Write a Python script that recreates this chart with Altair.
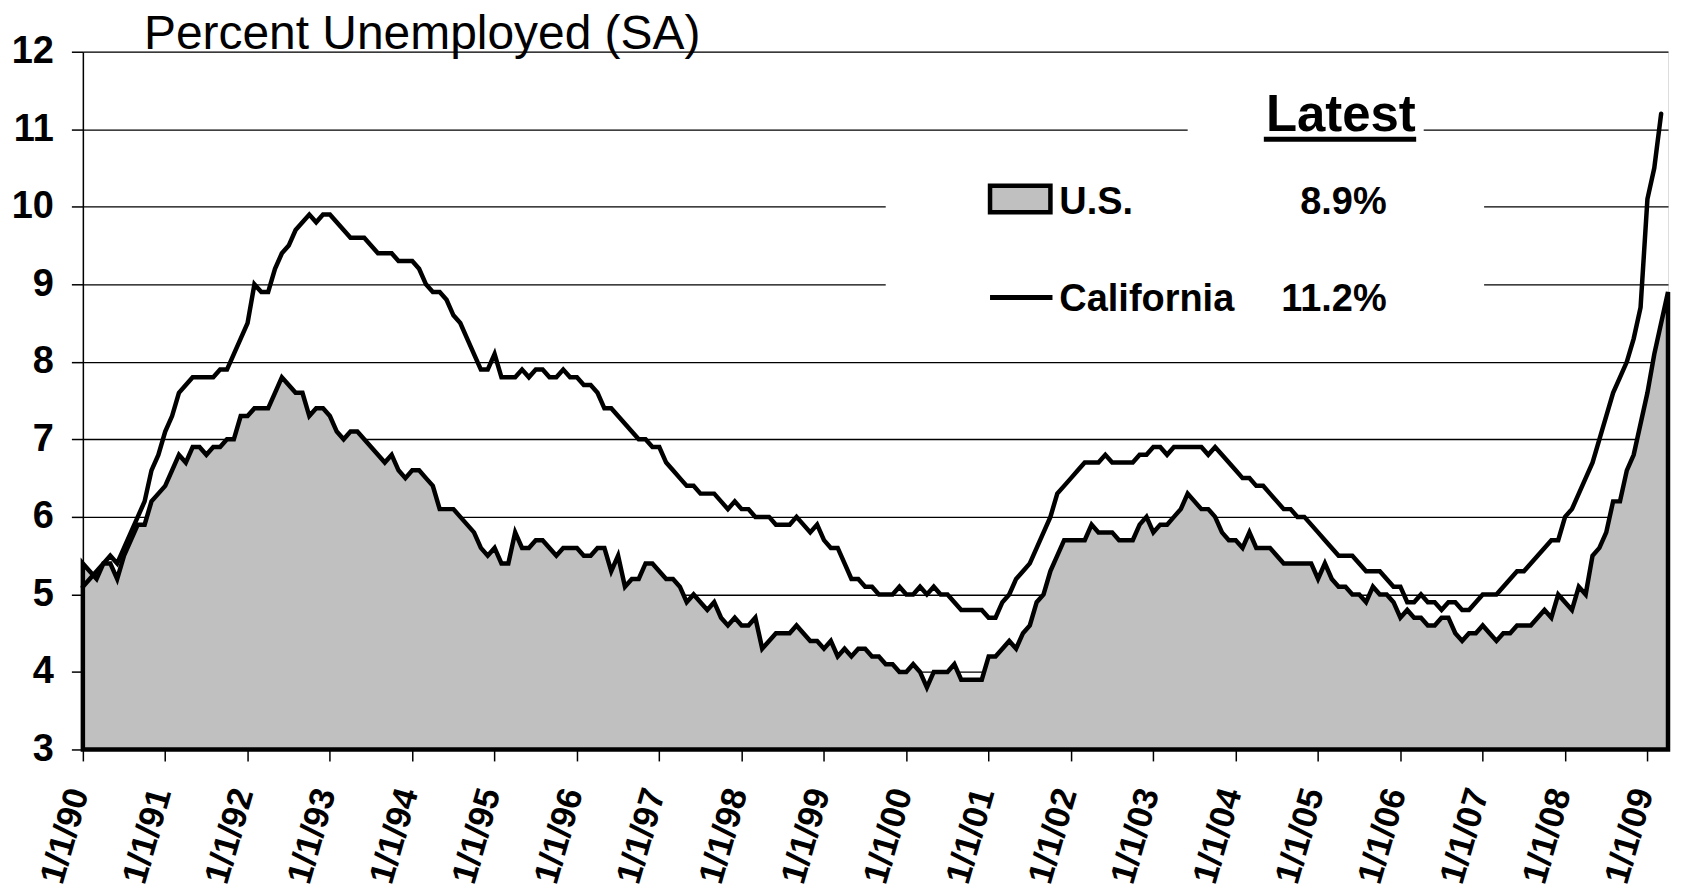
import json
import altair as alt
import pandas as pd

# ---------------- data ----------------
tick_labels = ["1/1/90", "1/1/91", "1/1/92", "1/1/93", "1/1/94", "1/1/95", "1/1/96",
               "1/1/97", "1/1/98", "1/1/99", "1/1/00", "1/1/01", "1/1/02", "1/1/03",
               "1/1/04", "1/1/05", "1/1/06", "1/1/07", "1/1/08", "1/1/09"]
y_ticks = [3, 4, 5, 6, 7, 8, 9, 10, 11, 12]

# U.S. unemployment rate, monthly Jan 1990 - Apr 2009
us_rate = [
    5.4, 5.3, 5.2, 5.4, 5.4, 5.2, 5.5, 5.7, 5.9, 5.9, 6.2, 6.3,   # 1990
    6.4, 6.6, 6.8, 6.7, 6.9, 6.9, 6.8, 6.9, 6.9, 7.0, 7.0, 7.3,   # 1991
    7.3, 7.4, 7.4, 7.4, 7.6, 7.8, 7.7, 7.6, 7.6, 7.3, 7.4, 7.4,   # 1992
    7.3, 7.1, 7.0, 7.1, 7.1, 7.0, 6.9, 6.8, 6.7, 6.8, 6.6, 6.5,   # 1993
    6.6, 6.6, 6.5, 6.4, 6.1, 6.1, 6.1, 6.0, 5.9, 5.8, 5.6, 5.5,   # 1994
    5.6, 5.4, 5.4, 5.8, 5.6, 5.6, 5.7, 5.7, 5.6, 5.5, 5.6, 5.6,   # 1995
    5.6, 5.5, 5.5, 5.6, 5.6, 5.3, 5.5, 5.1, 5.2, 5.2, 5.4, 5.4,   # 1996
    5.3, 5.2, 5.2, 5.1, 4.9, 5.0, 4.9, 4.8, 4.9, 4.7, 4.6, 4.7,   # 1997
    4.6, 4.6, 4.7, 4.3, 4.4, 4.5, 4.5, 4.5, 4.6, 4.5, 4.4, 4.4,   # 1998
    4.3, 4.4, 4.2, 4.3, 4.2, 4.3, 4.3, 4.2, 4.2, 4.1, 4.1, 4.0,   # 1999
    4.0, 4.1, 4.0, 3.8, 4.0, 4.0, 4.0, 4.1, 3.9, 3.9, 3.9, 3.9,   # 2000
    4.2, 4.2, 4.3, 4.4, 4.3, 4.5, 4.6, 4.9, 5.0, 5.3, 5.5, 5.7,   # 2001
    5.7, 5.7, 5.7, 5.9, 5.8, 5.8, 5.8, 5.7, 5.7, 5.7, 5.9, 6.0,   # 2002
    5.8, 5.9, 5.9, 6.0, 6.1, 6.3, 6.2, 6.1, 6.1, 6.0, 5.8, 5.7,   # 2003
    5.7, 5.6, 5.8, 5.6, 5.6, 5.6, 5.5, 5.4, 5.4, 5.4, 5.4, 5.4,   # 2004
    5.2, 5.4, 5.2, 5.1, 5.1, 5.0, 5.0, 4.9, 5.1, 5.0, 5.0, 4.9,   # 2005
    4.7, 4.8, 4.7, 4.7, 4.6, 4.6, 4.7, 4.7, 4.5, 4.4, 4.5, 4.5,   # 2006
    4.6, 4.5, 4.4, 4.5, 4.5, 4.6, 4.6, 4.6, 4.7, 4.8, 4.7, 5.0,   # 2007
    4.9, 4.8, 5.1, 5.0, 5.5, 5.6, 5.8, 6.2, 6.2, 6.6, 6.8, 7.2,   # 2008
    7.6, 8.1, 8.5, 8.9,                                           # 2009
]

# California unemployment rate, monthly Jan 1990 - Mar 2009
ca_rate = [
    5.1, 5.2, 5.3, 5.4, 5.5, 5.4, 5.6, 5.8, 6.0, 6.2, 6.6, 6.8,   # 1990
    7.1, 7.3, 7.6, 7.7, 7.8, 7.8, 7.8, 7.8, 7.9, 7.9, 8.1, 8.3,   # 1991
    8.5, 9.0, 8.9, 8.9, 9.2, 9.4, 9.5, 9.7, 9.8, 9.9, 9.8, 9.9,   # 1992
    9.9, 9.8, 9.7, 9.6, 9.6, 9.6, 9.5, 9.4, 9.4, 9.4, 9.3, 9.3,   # 1993
    9.3, 9.2, 9.0, 8.9, 8.9, 8.8, 8.6, 8.5, 8.3, 8.1, 7.9, 7.9,   # 1994
    8.1, 7.8, 7.8, 7.8, 7.9, 7.8, 7.9, 7.9, 7.8, 7.8, 7.9, 7.8,   # 1995
    7.8, 7.7, 7.7, 7.6, 7.4, 7.4, 7.3, 7.2, 7.1, 7.0, 7.0, 6.9,   # 1996
    6.9, 6.7, 6.6, 6.5, 6.4, 6.4, 6.3, 6.3, 6.3, 6.2, 6.1, 6.2,   # 1997
    6.1, 6.1, 6.0, 6.0, 6.0, 5.9, 5.9, 5.9, 6.0, 5.9, 5.8, 5.9,   # 1998
    5.7, 5.6, 5.6, 5.4, 5.2, 5.2, 5.1, 5.1, 5.0, 5.0, 5.0, 5.1,   # 1999
    5.0, 5.0, 5.1, 5.0, 5.1, 5.0, 5.0, 4.9, 4.8, 4.8, 4.8, 4.8,   # 2000
    4.7, 4.7, 4.9, 5.0, 5.2, 5.3, 5.4, 5.6, 5.8, 6.0, 6.3, 6.4,   # 2001
    6.5, 6.6, 6.7, 6.7, 6.7, 6.8, 6.7, 6.7, 6.7, 6.7, 6.8, 6.8,   # 2002
    6.9, 6.9, 6.8, 6.9, 6.9, 6.9, 6.9, 6.9, 6.8, 6.9, 6.8, 6.7,   # 2003
    6.6, 6.5, 6.5, 6.4, 6.4, 6.3, 6.2, 6.1, 6.1, 6.0, 6.0, 5.9,   # 2004
    5.8, 5.7, 5.6, 5.5, 5.5, 5.5, 5.4, 5.3, 5.3, 5.3, 5.2, 5.1,   # 2005
    5.1, 4.9, 4.9, 5.0, 4.9, 4.9, 4.8, 4.9, 4.9, 4.8, 4.8, 4.9,   # 2006
    5.0, 5.0, 5.0, 5.1, 5.2, 5.3, 5.3, 5.4, 5.5, 5.6, 5.7, 5.7,   # 2007
    6.0, 6.1, 6.3, 6.5, 6.7, 7.0, 7.3, 7.6, 7.8, 8.0, 8.3, 8.7,   # 2008
    10.1, 10.5, 11.2,                                             # 2009
]

series_names = ["U.S.", "California"]
latest_values = ["8.9%", "11.2%"]
heading = "Latest"
chart_title = "Percent Unemployed (SA)"

# ---------------- tables ----------------
us_df = pd.DataFrame({"m": list(range(len(us_rate))), "rate": us_rate})
us_df["base"] = 3
ca_df = pd.DataFrame({"m": list(range(len(ca_rate))), "rate": ca_rate})

FONT = "Liberation Sans"
last_m = len(us_rate) - 1

x_scale = alt.Scale(domain=[0, last_m], nice=False, zero=False)
y_scale = alt.Scale(domain=[3, 12], nice=False, zero=False)

label_expr = json.dumps(tick_labels) + "[round(datum.value / 12)]"

x_axis = alt.Axis(
    values=list(range(0, 12 * len(tick_labels), 12)),
    labelExpr=label_expr, labelAngle=286, labelAlign="right", labelBaseline="middle",
    labelFont=FONT, labelFontSize=35, labelFontWeight="bold", labelColor="black",
    labelPadding=28, labelOffset=-5, labelOverlap=False, labelFlush=False,
    tickSize=11.5, tickColor="black", tickWidth=1.5,
    domain=False, grid=False, title=None,
)
y_axis = alt.Axis(
    values=y_ticks, format="d", labelFont=FONT, labelFontSize=38, labelFontWeight="bold",
    labelColor="black", labelPadding=18, labelOverlap=False, labelFlush=False,
    tickSize=11.5, tickColor="black", tickWidth=1.5,
    domainColor="black", domainWidth=1.5,
    grid=True, gridColor="black", gridWidth=1.3, gridOpacity=1, title=None,
)

X = alt.X("m:Q", scale=x_scale, axis=x_axis)
Y = alt.Y("rate:Q", scale=y_scale, axis=y_axis)

us_area = alt.Chart(us_df).mark_area(
    fill="#c0c0c0", stroke="black", strokeWidth=4.5, strokeJoin="miter"
).encode(x=X, y=Y, y2="base:Q")

ca_line = alt.Chart(ca_df).mark_line(
    color="black", strokeWidth=4.5, strokeCap="round"
).encode(x="m:Q", y="rate:Q")

# ---------------- legend block (in data units) ----------------
boxes = pd.DataFrame({
    "x": [117.0, 161.0], "x2": [204.2, 195.4],
    "y": [8.3, 10.8], "y2": [10.72, 11.45],
})
legend_boxes = alt.Chart(boxes).mark_rect(fill="white").encode(
    x="x:Q", x2="x2:Q", y="y:Q", y2="y2:Q")

swatch = pd.DataFrame({"x": [132.2], "x2": [141.0], "y": [9.93], "y2": [10.27]})
us_swatch = alt.Chart(swatch).mark_rect(
    fill="#c0c0c0", stroke="black", strokeWidth=4.5).encode(
    x="x:Q", x2="x2:Q", y="y:Q", y2="y2:Q")

rules = pd.DataFrame({"x": [132.2, 172.1], "x2": [141.3, 194.3], "y": [8.83, 10.87]})
legend_rules = alt.Chart(rules).mark_rule(color="black", strokeWidth=5).encode(
    x="x:Q", x2="x2:Q", y="y:Q")

name_df = pd.DataFrame({"t": series_names, "x": [142.3, 142.3], "y": [9.91, 8.65]})
names = alt.Chart(name_df).mark_text(
    font=FONT, fontSize=38, fontWeight="bold", align="left", baseline="alphabetic",
    color="black").encode(x="x:Q", y="y:Q", text="t:N")

val_df = pd.DataFrame({"t": latest_values, "x": [190.0, 190.0], "y": [9.91, 8.65]})
vals = alt.Chart(val_df).mark_text(
    font=FONT, fontSize=38, fontWeight="bold", align="right", baseline="alphabetic",
    color="black").encode(x="x:Q", y="y:Q", text="t:N")

head_df = pd.DataFrame({"t": [heading], "x": [172.4], "y": [10.98]})
head = alt.Chart(head_df).mark_text(
    font=FONT, fontSize=51, fontWeight="bold", align="left", baseline="alphabetic",
    color="black").encode(x="x:Q", y="y:Q", text="t:N")

title_df = pd.DataFrame({"t": [chart_title], "x": [8.9], "y": [12.04]})
title = alt.Chart(title_df).mark_text(
    font=FONT, fontSize=48, fontWeight="normal", align="left", baseline="alphabetic",
    color="black").encode(x="x:Q", y="y:Q", text="t:N")

chart = alt.layer(
    us_area, ca_line, legend_boxes, us_swatch, legend_rules, names, vals, head, title
).properties(
    width=1588, height=699,
    padding={"left": 75, "top": 43, "right": 5, "bottom": 142},
    autosize=alt.AutoSizeParams(type="none"),
).configure_view(stroke="black", strokeWidth=1.5).configure(background="white")

chart.save("out.html", embed_options={"renderer": "svg", "actions": False})
